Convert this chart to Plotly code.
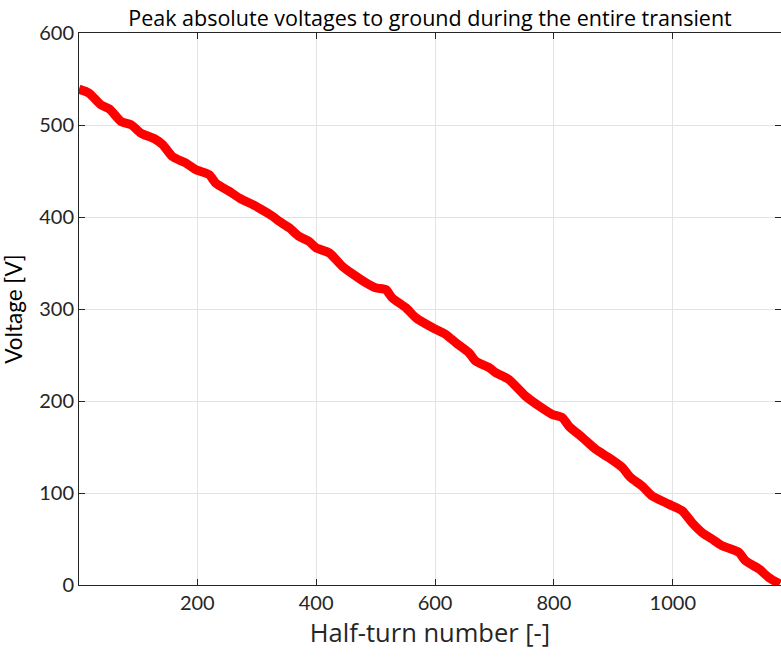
import plotly.graph_objects as go

# Half-turn index and the peak absolute voltage to ground reached at it
half_turn = [1, 18, 38, 52, 72, 89, 105, 128, 142, 158, 181, 198, 220, 231, 254, 271,
             299, 327, 338, 355, 371, 388, 400, 422, 444, 467, 484, 500, 517, 528,
             551, 568, 596, 618, 635, 657, 668, 691, 702, 724, 752, 775, 797, 814,
             825, 848, 870, 892, 915, 929, 948, 965, 993, 1016, 1032, 1049, 1066,
             1083, 1111, 1122, 1145, 1161, 1180]
peak_voltage = [539, 534.6, 521.8, 517.5, 503.7, 500.2, 491.2, 485, 478.5, 465.8,
                458.6, 451.3, 446, 436.9, 427.8, 420.6, 411.5, 400.7, 395.2, 388.1,
                379, 373.5, 366.4, 361, 346.4, 335.6, 328.4, 323, 321.2, 312.1,
                301.3, 290.4, 279.6, 272.3, 263.3, 252.5, 243.4, 236.2, 230.8,
                223.5, 205.4, 194.5, 185.5, 181.9, 172.8, 160.2, 147.6, 138.5,
                127.7, 116.8, 107.7, 96.9, 87.9, 80.6, 68, 57.2, 49.9, 42.6, 35.5,
                26.4, 17.4, 8.4, 1]

x_ticks = [200, 400, 600, 800, 1000]
y_ticks = [0, 100, 200, 300, 400, 500, 600]

TICK_FONT = "Lato"
TEXT_FONT = "Open Sans"
INK = "#262626"
GRID = "#e3e3e3"

fig = go.Figure()
fig.add_trace(go.Scatter(
    x=half_turn, y=peak_voltage, mode="lines",
    line=dict(color="#ff0000", width=9, shape="spline", smoothing=0.6),
    showlegend=False,
))

axis_common = dict(
    showline=True, linecolor=INK, linewidth=1, mirror="ticks",
    ticks="inside", ticklen=6, tickcolor=INK,
    showgrid=True, gridcolor=GRID, gridwidth=1,
    zeroline=False, tickfont=dict(family=TICK_FONT, size=20, color=INK),
)

fig.update_layout(
    width=781, height=660,
    margin=dict(l=79, r=0, t=33, b=75),
    paper_bgcolor="white", plot_bgcolor="white",
    title=dict(text="Peak absolute voltages to ground during the entire transient",
               x=0.5, xref="paper", xanchor="center",
               y=1, yref="paper", yanchor="bottom", pad=dict(b=7),
               font=dict(family=TEXT_FONT, size=21.5, color="#000000")),
    xaxis=dict(range=[1, 1182], tickvals=x_ticks,
               title=dict(text="Half-turn number [-]", standoff=11,
                          font=dict(family=TEXT_FONT, size=25.5, color=INK)),
               **axis_common),
    yaxis=dict(range=[0, 600], tickvals=y_ticks,
               title=dict(text="Voltage [V]", standoff=13,
                          font=dict(family=TICK_FONT, size=22.5, color="#000000")),
               **axis_common),
)

fig.write_html("out.html")
